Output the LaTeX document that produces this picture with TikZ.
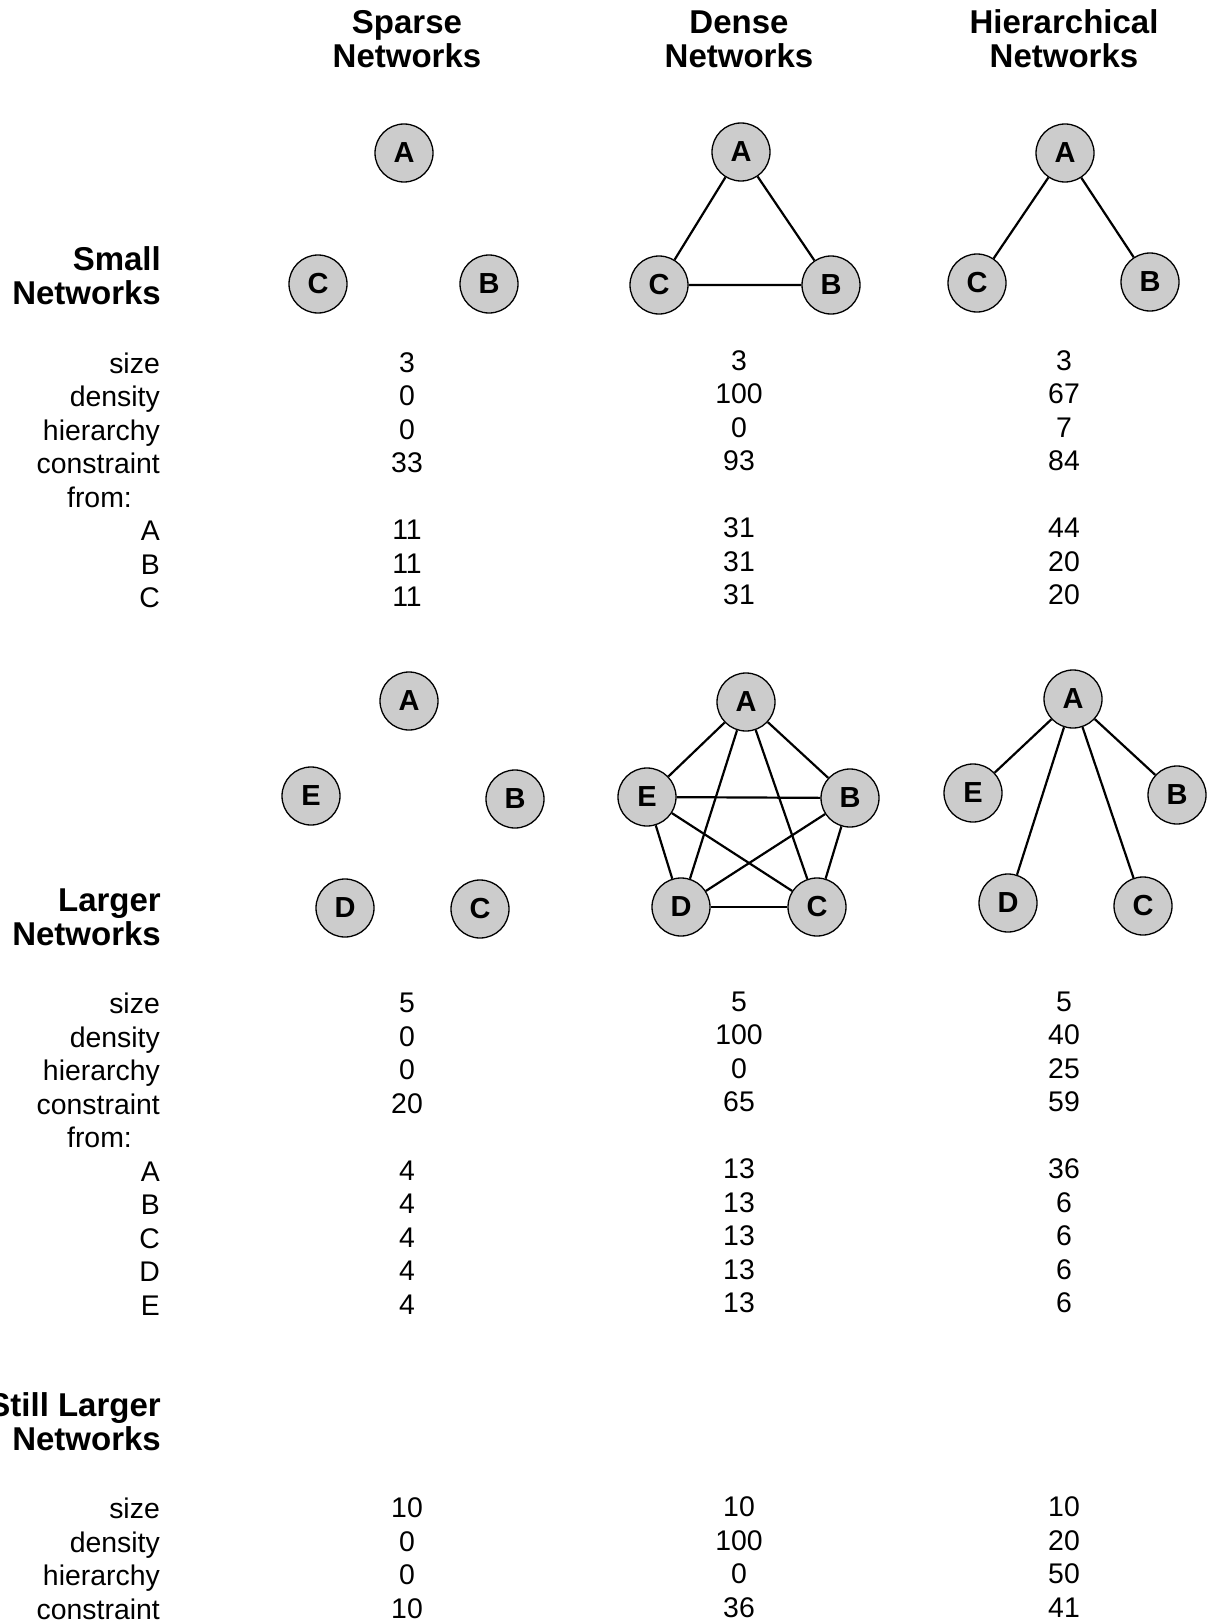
\documentclass[tikz,border=0pt]{standalone}
\usepackage{fontspec}
\setmainfont{Liberation Sans}
\definecolor{nodegray}{RGB}{204,204,204}
\begin{document}
\begin{tikzpicture}[x=1pt,y=-1pt,
  agent/.style={circle, draw, line width=1.3pt, fill=nodegray, minimum size=58pt,
    inner sep=0pt, font=\fontsize{29}{29}\selectfont\bfseries},
  tie/.style={line width=2.2pt},
  heading/.style={font=\fontsize{33}{34}\selectfont\bfseries, inner sep=0pt},
  colhead/.style={heading, align=center, anchor=south},
  rowhead/.style={heading, align=right, anchor=south east},
  lbl/.style={font=\fontsize{28.4}{33.5}\selectfont, inner sep=0pt, anchor=base east},
  val/.style={font=\fontsize{28.4}{33.5}\selectfont, inner sep=0pt, anchor=base},
]
\useasboundingbox (0,0) rectangle (1209,1624);

% column headings
\node[colhead] (hsparse) at (407,68)  {Sparse\\Networks};
\node[colhead] (hdense)  at (739,68)  {Dense\\Networks};
\node[colhead] (hhier)   at (1064,68) {Hierarchical\\Networks};

% ---------------- small networks ----------------
\node[rowhead] (rsmall) at (161,305) {Small\\Networks};

\node[agent] (smsA) at (404,153) {A};
\node[agent] (smsB) at (489,284) {B};
\node[agent] (smsC) at (318,284) {C};

\node[agent] (smdA) at (741,152) {A};
\node[agent] (smdB) at (831,285) {B};
\node[agent] (smdC) at (659,285) {C};
\draw[tie] (smdA) -- (smdB) -- (smdC) -- (smdA);

\node[agent] (smhA) at (1065,153) {A};
\node[agent] (smhB) at (1150,282) {B};
\node[agent] (smhC) at (977,283)  {C};
\draw[tie] (smhA) -- (smhC);
\draw[tie] (smhA) -- (smhB);

\foreach \t [count=\i from 0] in {size,density,hierarchy,constraint}
  \node[lbl] (smlab\i) at (160,373+33.5*\i) {\t};
\node[lbl] (smfrom) at (132,507) {from:};
\foreach \t [count=\i from 0] in {A,B,C}
  \node[lbl] (smlet\i) at (160,540.5+33.5*\i) {\t};

\foreach \v [count=\i from 0] in {3,0,0,33}
  \node[val] (smsv\i) at (407,372+33.5*\i) {\v};
\foreach \v [count=\i from 0] in {11,11,11}
  \node[val] (smsf\i) at (407,539.5+33.5*\i) {\v};
\foreach \v [count=\i from 0] in {3,100,0,93}
  \node[val] (smdv\i) at (739,370+33.5*\i) {\v};
\foreach \v [count=\i from 0] in {31,31,31}
  \node[val] (smdf\i) at (739,537.5+33.5*\i) {\v};
\foreach \v [count=\i from 0] in {3,67,7,84}
  \node[val] (smhv\i) at (1064,370+33.5*\i) {\v};
\foreach \v [count=\i from 0] in {44,20,20}
  \node[val] (smhf\i) at (1064,537.5+33.5*\i) {\v};

% ---------------- larger networks ----------------
\node[rowhead] (rlarge) at (161,946) {Larger\\Networks};

\node[agent] (lgsA) at (409,701) {A};
\node[agent] (lgsB) at (515,799) {B};
\node[agent] (lgsC) at (480,909) {C};
\node[agent] (lgsD) at (345,908) {D};
\node[agent] (lgsE) at (311,796) {E};

\node[agent] (lgdA) at (746,702) {A};
\node[agent] (lgdB) at (850,798) {B};
\node[agent] (lgdC) at (817,907) {C};
\node[agent] (lgdD) at (681,907) {D};
\node[agent] (lgdE) at (647,797) {E};
\foreach \p/\q in {A/B,A/C,A/D,A/E,B/C,B/D,B/E,C/D,C/E,D/E}
  \draw[tie] (lgd\p) -- (lgd\q);

\node[agent] (lghA) at (1073,699) {A};
\node[agent] (lghB) at (1177,795) {B};
\node[agent] (lghC) at (1143,906) {C};
\node[agent] (lghD) at (1008,903) {D};
\node[agent] (lghE) at (973,793)  {E};
\foreach \q in {B,C,D,E}
  \draw[tie] (lghA) -- (lgh\q);

\foreach \t [count=\i from 0] in {size,density,hierarchy,constraint}
  \node[lbl] (lglab\i) at (160,1013.5+33.5*\i) {\t};
\node[lbl] (lgfrom) at (132,1147.5) {from:};
\foreach \t [count=\i from 0] in {A,B,C,D,E}
  \node[lbl] (lglet\i) at (160,1181+33.5*\i) {\t};

\foreach \v [count=\i from 0] in {5,0,0,20}
  \node[val] (lgsv\i) at (407,1012.5+33.5*\i) {\v};
\foreach \v [count=\i from 0] in {4,4,4,4,4}
  \node[val] (lgsf\i) at (407,1180+33.5*\i) {\v};
\foreach \v [count=\i from 0] in {5,100,0,65}
  \node[val] (lgdv\i) at (739,1011+33.5*\i) {\v};
\foreach \v [count=\i from 0] in {13,13,13,13,13}
  \node[val] (lgdf\i) at (739,1178.5+33.5*\i) {\v};
\foreach \v [count=\i from 0] in {5,40,25,59}
  \node[val] (lghv\i) at (1064,1011+33.5*\i) {\v};
\foreach \v [count=\i from 0] in {36,6,6,6,6}
  \node[val] (lghf\i) at (1064,1178.5+33.5*\i) {\v};

% ---------------- still larger networks ----------------
\node[rowhead] (rstill) at (161,1451) {Still Larger\\Networks};

\foreach \t [count=\i from 0] in {size,density,hierarchy,constraint}
  \node[lbl] (stlab\i) at (160,1518.5+33.5*\i) {\t};
\foreach \v [count=\i from 0] in {10,0,0,10}
  \node[val] (stsv\i) at (407,1517.5+33.5*\i) {\v};
\foreach \v [count=\i from 0] in {10,100,0,36}
  \node[val] (stdv\i) at (739,1516.5+33.5*\i) {\v};
\foreach \v [count=\i from 0] in {10,20,50,41}
  \node[val] (sthv\i) at (1064,1516.5+33.5*\i) {\v};
\end{tikzpicture}
\end{document}
